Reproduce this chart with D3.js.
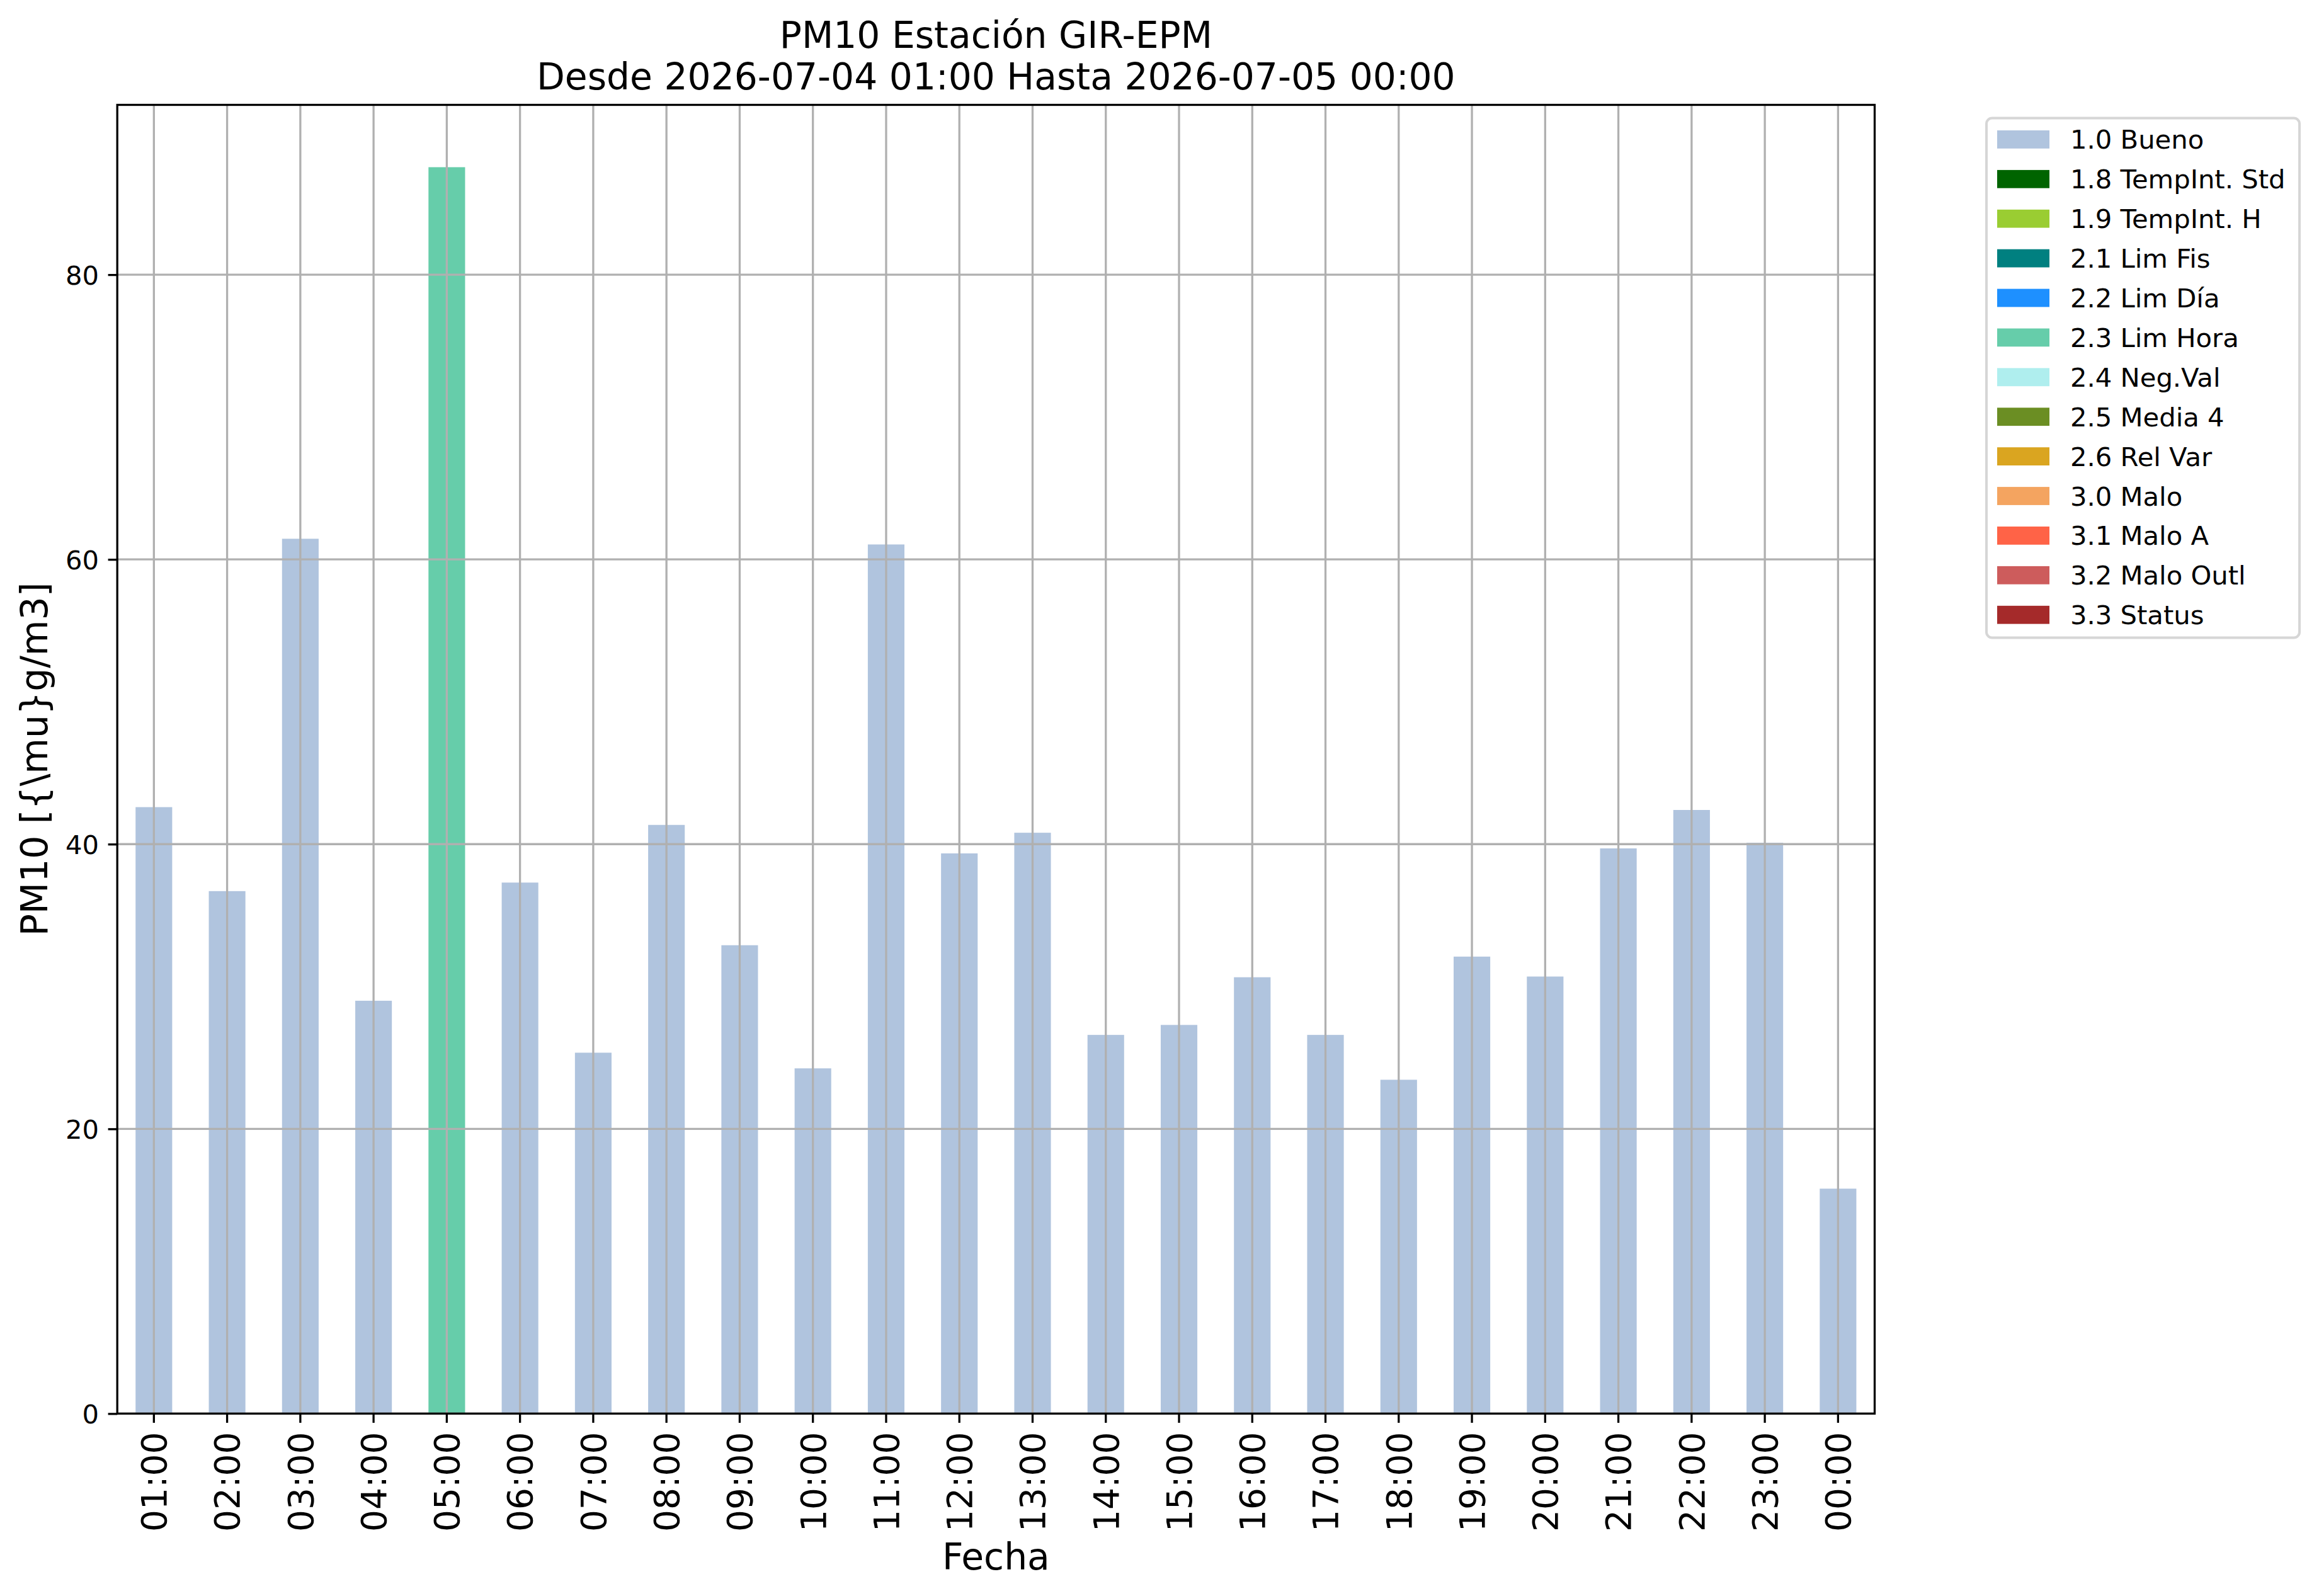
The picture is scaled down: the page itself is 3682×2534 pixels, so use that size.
<!DOCTYPE html>
<html>
<head>
<meta charset="utf-8">
<title>PM10 Estación GIR-EPM</title>
<script src="https://cdn.jsdelivr.net/npm/d3@7"></script>
<style>
  body { margin: 0; background: #fff; }
  svg { display: block; font-family: "DejaVu Sans", sans-serif; }
</style>
</head>
<body>
<script>
// hourly labels and PM10 values
var hours = ["01:00", "02:00", "03:00", "04:00", "05:00", "06:00", "07:00", "08:00",
             "09:00", "10:00", "11:00", "12:00", "13:00", "14:00", "15:00", "16:00",
             "17:00", "18:00", "19:00", "20:00", "21:00", "22:00", "23:00", "00:00"];
var values = [42.6, 36.7, 61.45, 29.0, 87.55, 37.3, 25.35, 41.35,
              32.9, 24.25, 61.05, 39.35, 40.8, 26.6, 27.3, 30.65,
              26.6, 23.45, 32.1, 30.7, 39.7, 42.4, 40.1, 15.8];
// quality flag of every hour
var flags = ["1.0 Bueno", "1.0 Bueno", "1.0 Bueno", "1.0 Bueno", "2.3 Lim Hora", "1.0 Bueno",
             "1.0 Bueno", "1.0 Bueno", "1.0 Bueno", "1.0 Bueno", "1.0 Bueno", "1.0 Bueno",
             "1.0 Bueno", "1.0 Bueno", "1.0 Bueno", "1.0 Bueno", "1.0 Bueno", "1.0 Bueno",
             "1.0 Bueno", "1.0 Bueno", "1.0 Bueno", "1.0 Bueno", "1.0 Bueno", "1.0 Bueno"];

var flagNames = ["1.0 Bueno", "1.8 TempInt. Std", "1.9 TempInt. H", "2.1 Lim Fis", "2.2 Lim Día",
                 "2.3 Lim Hora", "2.4 Neg.Val", "2.5 Media 4", "2.6 Rel Var", "3.0 Malo",
                 "3.1 Malo A", "3.2 Malo Outl", "3.3 Status"];
var flagColors = ["#B0C4DE", "#006400", "#9ACD32", "#008080", "#1E90FF",
                  "#66CDAA", "#AFEEEE", "#6B8E23", "#DAA520", "#F4A460",
                  "#FF6347", "#CD5C5C", "#A52A2A"];

var yTicks = [0, 20, 40, 60, 80];

var titleLines = ["PM10 Estación GIR-EPM", "Desde 2026-07-04 01:00 Hasta 2026-07-05 00:00"];
var xTitle = "Fecha";
var yTitle = "PM10 [{\\mu}g/m3]";

var width = 3682;
var height = 2534;

// axes box in pixels (window.top is taken, so prefixed names)
var axLeft = 186.2, axRight = 2976.5, axTop = 166.5, axBottom = 2244.4;

var svg = d3.select("body").append("svg")
    .attr("width", width)
    .attr("height", height);

var rows = hours.map(function(h, i) {
  return {hour: h, value: values[i], flag: flags[i]};
});

var x = d3.scaleBand()
    .domain(hours)
    .range([axLeft, axRight])
    .paddingInner(0.5)
    .paddingOuter(0.25);

var y = d3.scaleLinear()
    .domain([0, d3.max(values) * 1.05])
    .range([axBottom, axTop]);

var colour = d3.scaleOrdinal()
    .domain(flagNames)
    .range(flagColors);

// bars
svg.append("g")
    .attr("class", "bars")
  .selectAll("rect")
    .data(rows)
  .enter().append("rect")
    .attr("x", function(d) { return x(d.hour); })
    .attr("y", function(d) { return y(d.value); })
    .attr("width", x.bandwidth())
    .attr("height", function(d) { return y(0) - y(d.value); })
    .attr("fill", function(d) { return colour(d.flag); });

// grid on top of the bars, like the original
var grid = svg.append("g").attr("class", "grid")
    .attr("stroke", "#b0b0b0")
    .attr("stroke-width", 3.3);

grid.selectAll("line.v")
    .data(hours)
  .enter().append("line")
    .attr("class", "v")
    .attr("x1", function(d) { return x(d) + x.bandwidth() / 2; })
    .attr("x2", function(d) { return x(d) + x.bandwidth() / 2; })
    .attr("y1", axTop)
    .attr("y2", axBottom);

grid.selectAll("line.h")
    .data(yTicks)
  .enter().append("line")
    .attr("class", "h")
    .attr("x1", axLeft)
    .attr("x2", axRight)
    .attr("y1", function(d) { return y(d); })
    .attr("y2", function(d) { return y(d); });

// axes
var yAxis = svg.append("g")
    .attr("transform", "translate(" + axLeft + ",0)")
    .call(d3.axisLeft(y).tickValues(yTicks).tickFormat(d3.format("d")).tickSize(14.6).tickPadding(14.6));

var xAxis = svg.append("g")
    .attr("transform", "translate(0," + axBottom + ")")
    .call(d3.axisBottom(x).tickSize(14.6));

[yAxis, xAxis].forEach(function(a) {
  a.select(".domain").remove();
  a.selectAll(".tick line").attr("stroke", "#000").attr("stroke-width", 3.3);
  a.selectAll(".tick text").attr("fill", "#000").attr("font-family", "DejaVu Sans");
});

yAxis.selectAll(".tick text")
    .attr("font-size", 41.7)
    .attr("dy", "0.36em");

xAxis.selectAll(".tick text")
    .attr("font-size", 55)
    .attr("text-anchor", "end")
    .attr("transform", "rotate(-90)")
    .attr("x", -29.2)
    .attr("y", 0)
    .attr("dy", "0.36em");

// spines
svg.append("rect")
    .attr("x", axLeft)
    .attr("y", axTop)
    .attr("width", axRight - axLeft)
    .attr("height", axBottom - axTop)
    .attr("fill", "none")
    .attr("stroke", "#000")
    .attr("stroke-width", 3.3);

// titles
var cx = (axLeft + axRight) / 2;
svg.append("g").selectAll("text")
    .data(titleLines)
  .enter().append("text")
    .attr("x", cx)
    .attr("y", function(d, i) { return 76 + i * 66; })
    .attr("text-anchor", "middle")
    .attr("font-size", 58.3)
    .text(function(d) { return d; });

svg.append("text")
    .attr("x", cx)
    .attr("y", 2492)
    .attr("text-anchor", "middle")
    .attr("font-size", 58.3)
    .text(xTitle);

svg.append("text")
    .attr("transform", "translate(75," + ((axTop + axBottom) / 2) + ") rotate(-90)")
    .attr("text-anchor", "middle")
    .attr("font-size", 58.3)
    .text(yTitle);

// legend
var legend = svg.append("g").attr("class", "legend");

legend.append("rect")
    .attr("x", 3154)
    .attr("y", 187.5)
    .attr("width", 497)
    .attr("height", 825)
    .attr("rx", 9)
    .attr("fill", "#fff")
    .attr("stroke", "#d6d6d6")
    .attr("stroke-width", 4);

var item = legend.selectAll("g.item")
    .data(flagNames)
  .enter().append("g")
    .attr("class", "item")
    .attr("transform", function(d, i) { return "translate(0," + (221.4 + i * 62.9) + ")"; });

item.append("rect")
    .attr("x", 3171)
    .attr("y", -14.4)
    .attr("width", 83)
    .attr("height", 28.8)
    .attr("fill", function(d) { return colour(d); });

item.append("text")
    .attr("x", 3287)
    .attr("y", 15)
    .attr("font-size", 41.7)
    .text(function(d) { return d; });
</script>
</body>
</html>
